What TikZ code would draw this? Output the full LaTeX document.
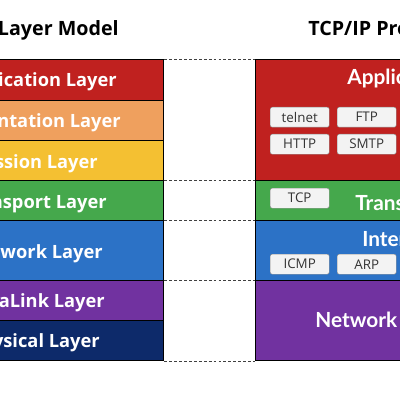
\documentclass[tikz,border=0pt]{standalone}
\usepackage{fontspec}
\usepackage{tikz}
\usetikzlibrary{calc}
\newfontfamily\osifont{Open Sans}
\newfontfamily\tcpfont{Lato}

\definecolor{osired}{HTML}{C0211F}
\definecolor{osiorange}{HTML}{EFA05E}
\definecolor{osiyellow}{HTML}{F4C032}
\definecolor{osigreen}{HTML}{45A84C}
\definecolor{osiblue}{HTML}{2C72C6}
\definecolor{osipurple}{HTML}{7132A0}
\definecolor{osinavy}{HTML}{0D2A6A}
\definecolor{protofill}{HTML}{F3F3F3}

\tikzset{
    layerbox/.style={draw=black, line width=1pt, anchor=north west, inner sep=0pt},
    layertext/.style={text=white, font=\osifont\bfseries\fontsize{13}{13}\selectfont, inner sep=0pt},
    suitetext/.style={text=white, font=\tcpfont\bfseries\fontsize{14.8}{14.8}\selectfont, inner sep=0pt},
    titletext/.style={text=black, font=\osifont\bfseries\fontsize{14}{14}\selectfont, inner sep=0pt},
    protobox/.style={draw=black!45, fill=protofill, rounded corners=1.5pt, line width=0.3pt,
        minimum width=59*0.025cm, minimum height=20*0.025cm, inner sep=0pt, anchor=north west,
        text=black!80, font=\osifont\fontsize{9.5}{9.5}\selectfont},
    gapline/.style={dashed, dash pattern=on 2pt off 1.5pt, line width=0.6pt, draw=black!75}
}

\begin{document}
\begin{tikzpicture}[x=0.025cm, y=-0.025cm]
    \useasboundingbox (0,0) rectangle (400,400);
    \clip (0,0) rectangle (400,400);

    % titles
    \node[titletext, anchor=base east] (osi-title) at (119,36) {OSI 7 Layer Model};
    \node[titletext, anchor=base west] (tcp-title) at (308,36) {TCP/IP Protocol};

    % OSI column
    \foreach \name/\col/\top/\hgt/\txt/\xend/\base in {
        app/osired/59/41/Application Layer/117/87,
        pre/osiorange/100/40/Presentation Layer/121/128,
        ses/osiyellow/140/40/Session Layer/98/168,
        tra/osigreen/180/40/Transport Layer/107/208,
        net/osiblue/220/60/Network Layer/103/258,
        dat/osipurple/280/40/DataLink Layer/105/307,
        phy/osinavy/320/40/Physical Layer/100/347} {
        \node[layerbox, fill=\col, minimum width=266*0.025cm, minimum height=\hgt*0.025cm]
            (\name) at (-103,\top) {};
        \node[layertext, anchor=base east] (\name-l) at (\xend,\base) {\txt};
    }

    % TCP/IP column
    \foreach \name/\col/\top/\hgt/\txt/\xstart/\base in {
        tapp/osired/59/121/Application Layer/347/85,
        ttra/osigreen/180/40/Transport Layer/355/210,
        tint/osiblue/220/60/Internet Layer/362/246,
        tnet/osipurple/280/80/Network Access Layer/315/327} {
        \node[layerbox, fill=\col, minimum width=285*0.025cm, minimum height=\hgt*0.025cm]
            (\name) at (255,\top) {};
        \node[suitetext, anchor=base west] (\name-l) at (\xstart,\base) {\txt};
    }

    % protocols
    \node[protobox] (telnet) at (270,107) {telnet};
    \node[protobox] (ftp) at (337,107) {FTP};
    \node[protobox] (http) at (270,134) {HTTP};
    \node[protobox] (smtp) at (337,134) {SMTP};
    \node[protobox] (tcp) at (270,188) {TCP};
    \node[protobox] (icmp) at (270,254) {ICMP};
    \node[protobox] (arp) at (337,254) {ARP};

    % dashed boundaries
    \draw[gapline] (app.north east) -- (tapp.north west);
    \draw[gapline] (tra.north east) -- (ttra.north west);
    \draw[gapline] (net.north east) -- (tint.north west);
    \draw[gapline] (dat.north east) -- (tnet.north west);
    \draw[gapline] (phy.south east) -- (tnet.south west);
\end{tikzpicture}
\end{document}
